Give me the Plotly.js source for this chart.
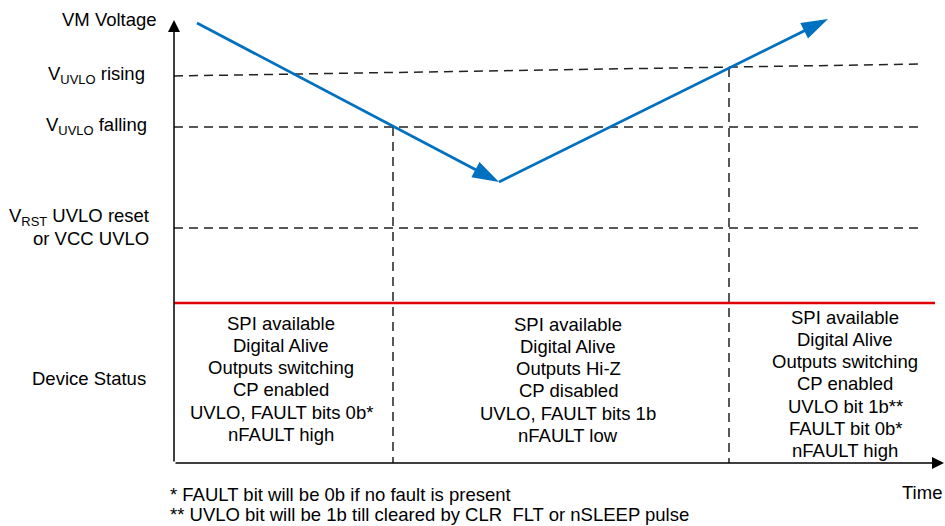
<!DOCTYPE html>
<html><head><meta charset="utf-8">
<script src="https://cdn.plot.ly/plotly-3.0.1.min.js"></script>
<style>html,body{margin:0;padding:0;background:#fff;}#chart{width:945px;height:526px;}</style>
</head><body><div id="chart"></div>
<script>
// ---- data (diagram units; vertical axis grows downward) ----
const vmTime = [197, 499, 828];
const vmLevel = [23, 182, 19];

const thresholdLabels = [['V<sub>UVLO</sub> rising'], ['V<sub>UVLO</sub> falling'], ['V<sub>RST</sub> UVLO reset', 'or VCC UVLO']];
const thresholdLevelStart = [76, 127, 228];
const thresholdLevelEnd = [64, 127, 228];

const eventTimes = [393, 729];
const eventTopLevels = [127, 68];

const statusCenters = [281, 568, 845];
const statusTops = [323, 324, 317];
const statusCol1 = ['SPI available', 'Digital Alive', 'Outputs switching', 'CP enabled', 'UVLO, FAULT bits 0b*', 'nFAULT high'];
const statusCol2 = ['SPI available', 'Digital Alive', 'Outputs Hi-Z', 'CP disabled', 'UVLO, FAULT bits 1b', 'nFAULT low'];
const statusCol3 = ['SPI available', 'Digital Alive', 'Outputs switching', 'CP enabled', 'UVLO bit 1b**', 'FAULT bit 0b*', 'nFAULT high'];
const statusTexts = [statusCol1, statusCol2, statusCol3];

const footnotes = ['* FAULT bit will be 0b if no fault is present', '** UVLO bit will be 1b till cleared by CLR\u00a0 FLT or nSLEEP pulse'];

// ---- frame geometry ----
const x0 = 174, yBase = 463, yTop = 20, xRight = 944;
const statusLevel = 303, statusEnd = 935, thresholdX1 = 920;
const lineStep = 22.3;
const FONT = {family: 'Liberation Sans, Arial, sans-serif', size: 18.5, color: '#000'};

const traces = [];
// threshold dashed lines
thresholdLevelStart.forEach((v, i) => {
  traces.push({x: [x0, thresholdX1], y: [v, thresholdLevelEnd[i]], mode: 'lines',
    line: {color: '#222', width: 1.5, dash: '9px,6px'}, hoverinfo: 'skip'});
});
// event vertical dashed lines
eventTimes.forEach((t, i) => {
  traces.push({x: [t, t], y: [eventTopLevels[i], yBase], mode: 'lines',
    line: {color: '#222', width: 1.5, dash: '9px,6px'}, hoverinfo: 'skip'});
});
// status divider (red)
traces.push({x: [x0, statusEnd], y: [statusLevel, statusLevel], mode: 'lines',
  line: {color: '#e00000', width: 2.5}, hoverinfo: 'skip'});
// VM voltage
traces.push({x: vmTime, y: vmLevel, mode: 'lines+markers',
  line: {color: '#0070c0', width: 2.8},
  marker: {symbol: 'arrow', size: 28, angleref: 'previous', color: '#0070c0', line: {width: 0}},
  hoverinfo: 'skip'});

const ann = [];
// axes with arrowheads
ann.push({x: x0, y: yTop, ax: x0, ay: yBase, axref: 'x', ayref: 'y', xref: 'x', yref: 'y', text: '',
  showarrow: true, arrowhead: 2, arrowsize: 1.6, arrowwidth: 1.5, arrowcolor: '#000', standoff: 0});
ann.push({x: xRight, y: yBase, ax: x0, ay: yBase, axref: 'x', ayref: 'y', xref: 'x', yref: 'y', text: '',
  showarrow: true, arrowhead: 2, arrowsize: 1.6, arrowwidth: 1.5, arrowcolor: '#000', standoff: 0});

function label(text, x, y, xanchor) {
  ann.push({x: x, y: y, xref: 'x', yref: 'y', text: text, showarrow: false,
    xanchor: xanchor, yanchor: 'middle', font: FONT});
}
label('VM Voltage', 159, 19, 'right');
thresholdLabels.forEach((lines, i) => {
  const rightEdge = [147, 149, 151][i];
  if (lines.length === 1) {
    label(lines[0], rightEdge, thresholdLevelStart[i] - 1, 'right');
  } else {
    label(lines[0], rightEdge, thresholdLevelStart[i] - 11, 'right');
    label(lines[1], rightEdge, thresholdLevelStart[i] + 10, 'right');
  }
});
label('Device Status', 89, 378, 'center');
statusTexts.forEach((col, c) => {
  col.forEach((t, k) => label(t, statusCenters[c], statusTops[c] + k * lineStep, 'center'));
});
label(footnotes[0], 168, 494, 'left');
label(footnotes[1], 168, 514.5, 'left');
label('Time', 922, 492, 'center');

const layout = {
  width: 945, height: 526,
  margin: {l: 0, r: 0, t: 0, b: 0},
  paper_bgcolor: '#fff', plot_bgcolor: '#fff',
  showlegend: false,
  xaxis: {range: [0, 945], visible: false, fixedrange: true},
  yaxis: {range: [526, 0], visible: false, fixedrange: true},
  annotations: ann,
  font: FONT
};
Plotly.newPlot('chart', traces, layout, {displayModeBar: false, staticPlot: true});
</script>
</body></html>
